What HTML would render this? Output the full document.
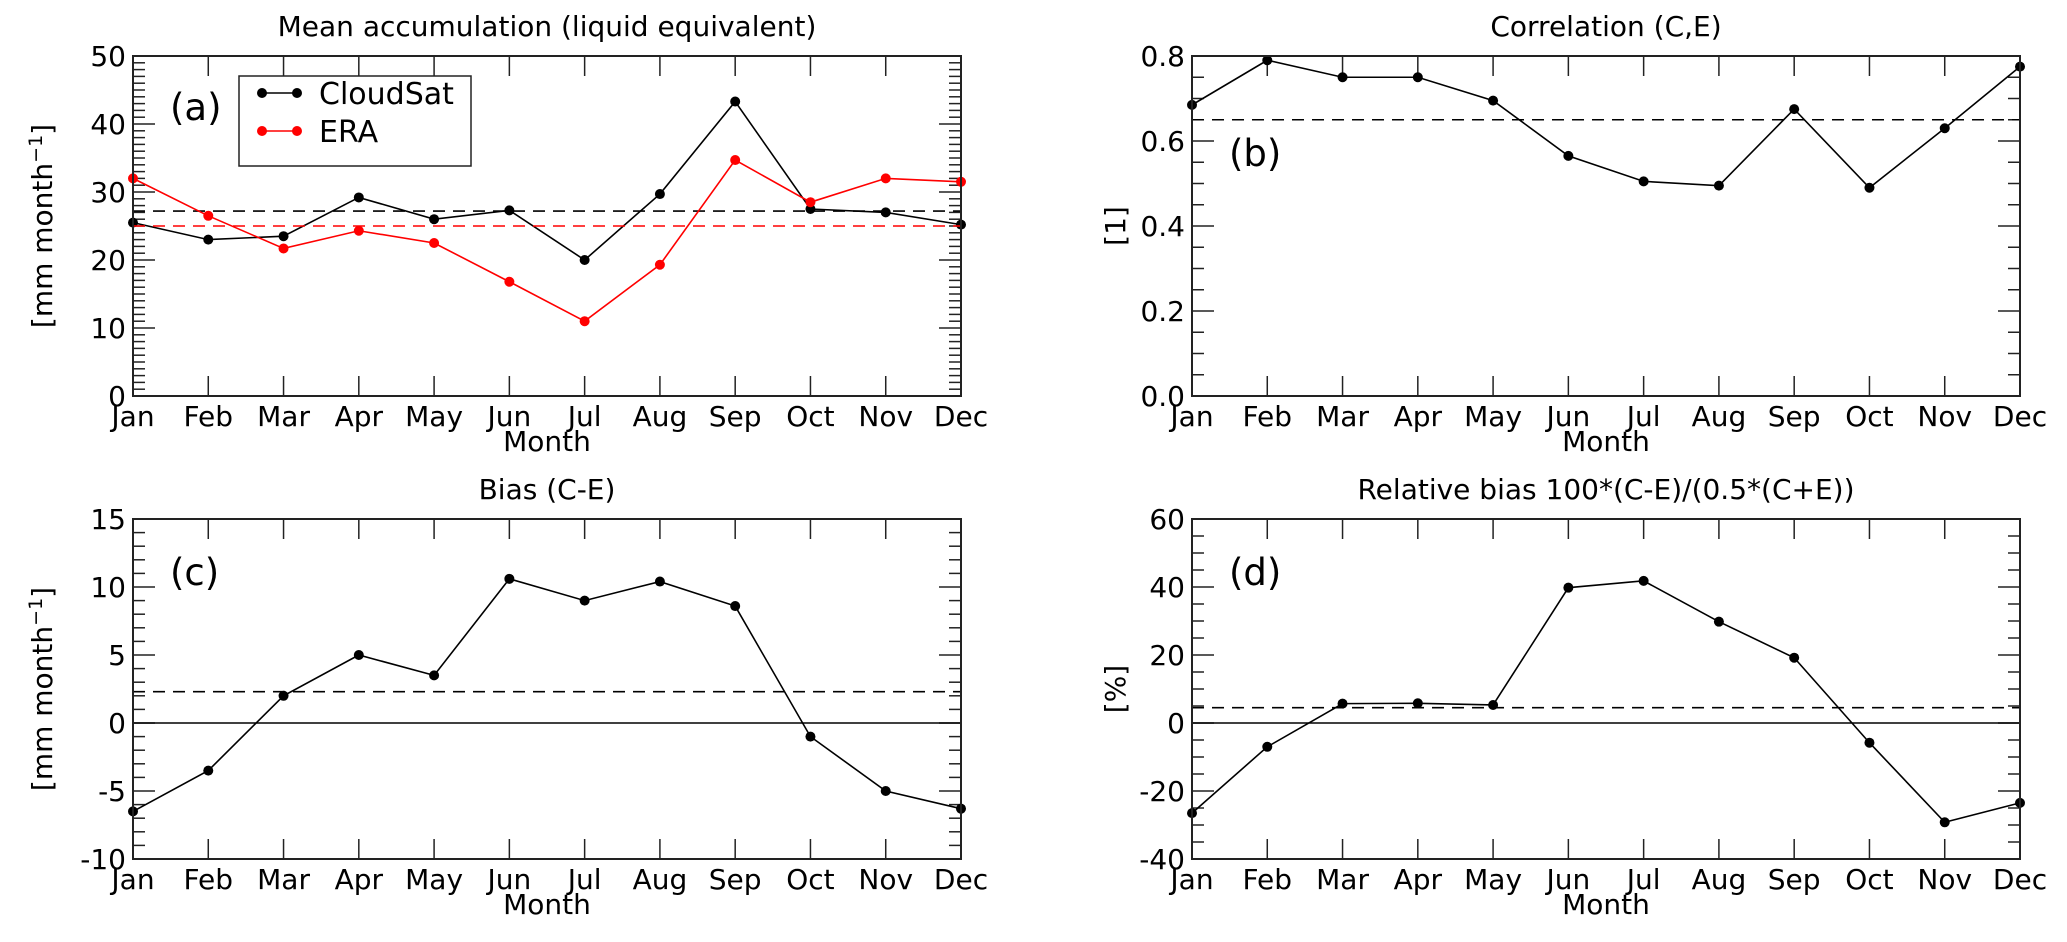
<!DOCTYPE html>
<html><head><meta charset="utf-8"><style>
body{margin:0;background:#fff}
svg{display:block;font-family:"DejaVu Sans","Liberation Sans",sans-serif}
</style></head><body>
<svg id="fig" width="2067" height="942" viewBox="0 0 2067 942" xmlns="http://www.w3.org/2000/svg"></svg>
<script>
const months = ["Jan","Feb","Mar","Apr","May","Jun","Jul","Aug","Sep","Oct","Nov","Dec"];
const cloudsat = [25.5,23,23.5,29.2,26,27.3,20,29.7,43.3,27.5,27,25.2];
const era = [32,26.5,21.7,24.3,22.5,16.8,11,19.3,34.7,28.5,32,31.5];
const meanCloudsat = 27.2;
const meanEra = 25;
const corr = [0.685,0.79,0.75,0.75,0.695,0.565,0.505,0.495,0.675,0.49,0.63,0.775];
const meanCorr = 0.65;
const bias = [-6.5,-3.5,2,5,3.5,10.6,9,10.4,8.6,-1,-5,-6.3];
const meanBias = 2.3;
const relBias = [-26.5,-7,5.7,5.8,5.3,39.8,41.8,29.8,19.2,-5.8,-29.2,-23.5];
const meanRelBias = 4.5;
const ticksA = ["0","10","20","30","40","50"];
const ticksB = ["0.0","0.2","0.4","0.6","0.8"];
const ticksC = ["-10","-5","0","5","10","15"];
const ticksD = ["-40","-20","0","20","40","60"];

const svg = document.getElementById('fig');
const NS = "http://www.w3.org/2000/svg";
function mk(tag, attrs, parent){
  const e = document.createElementNS(NS, tag);
  for (const k in attrs) e.setAttribute(k, attrs[k]);
  (parent||svg).appendChild(e);
  return e;
}
const FS = 28;

function panel(o){
  const g = mk('g', {});
  
  
  const L=o.x, T=o.y, W=828, H=340;
  const xs = i => L + i*W/11;
  const ys = v => T + H - (v - o.min)/(o.max - o.min)*H;
  for (let v=o.min; v<=o.max+1e-9; v+=o.minor){
    const isMaj = Math.abs(Math.round((v-o.min)/o.major)*o.major-(v-o.min))<1e-6;
    const len = isMaj?22:12;
    mk('line',{x1:L,x2:L+len,y1:ys(v),y2:ys(v),stroke:'#222','stroke-width':1.5},g);
    mk('line',{x1:L+W,x2:L+W-len,y1:ys(v),y2:ys(v),stroke:'#222','stroke-width':1.5},g);
  }
  o.ticks.forEach(t=>{
    const v=parseFloat(t);
    const tx = mk('text',{x:L-7,y:ys(v)+10,'text-anchor':'end','font-size':FS,fill:'#000'},g);
    tx.textContent=t;
    
    
  });
  months.forEach((m,i)=>{
    mk('line',{x1:xs(i),x2:xs(i),y1:T,y2:T+20,stroke:'#222','stroke-width':1.5},g);
    mk('line',{x1:xs(i),x2:xs(i),y1:T+H,y2:T+H-20,stroke:'#222','stroke-width':1.5},g);
    const tx = mk('text',{x:xs(i),y:T+H+30,'text-anchor':'middle','font-size':FS,fill:'#000'},g);
    tx.textContent=m;
    
    
  });
  const xt = mk('text',{x:L+W/2,y:T+H+55,'text-anchor':'middle','font-size':FS},g);
  xt.textContent='Month';
  
  
  const tt = mk('text',{x:L+W/2,y:T-20,'text-anchor':'middle','font-size':FS},g);
  tt.textContent=o.title;
  
  
  const yt = mk('text',{x:0,y:0,'text-anchor':'middle','font-size':FS,transform:`translate(${o.ylx},${T+H/2}) rotate(-90)`},g);
  yt.innerHTML=o.ylabel;
  
  
  const pl = mk('text',{x:L+37,y:T+o.ly,'font-size':37},g);
  pl.textContent=o.letter;
  
  
  if (o.zero){
    mk('line',{x1:L,x2:L+W,y1:ys(0),y2:ys(0),stroke:'#000','stroke-width':1.5},g);
  }
  o.series.forEach(s=>{
    const ml = mk('line',{x1:L,x2:L+W,y1:ys(s.mean),y2:ys(s.mean),stroke:s.color,'stroke-width':1.6,'stroke-dasharray':'12,8'},g);
    
    
    const pts = s.data.map((v,i)=>xs(i)+','+ys(v)).join(' ');
    const pln = mk('polyline',{points:pts,fill:'none',stroke:s.color,'stroke-width':1.6},g);
    
    
    s.data.forEach((v,i)=>{
      const c = mk('circle',{cx:xs(i),cy:ys(v),r:5,fill:s.color},g);
      
      
    });
  });
  const fr = mk('rect',{x:L,y:T,width:W,height:H,fill:'none',stroke:'#222','stroke-width':2},g);
  
  
  return g;
}

panel({name:'panel-a-mean-accumulation',x:133,y:56,min:0,max:50,major:10,minor:1,ticks:ticksA,ly:64,
  title:'Mean accumulation (liquid equivalent)',letter:'(a)',ylx:52,
  ylabel:'[mm month<tspan dy="-10" font-size="19">−1</tspan><tspan dy="10">]</tspan>',
  series:[{data:cloudsat,mean:meanCloudsat,color:'#000'},{data:era,mean:meanEra,color:'#ff0000'}]});
panel({name:'panel-b-correlation',x:1192,y:56,min:0,max:0.8,major:0.2,minor:0.05,ticks:ticksB,ly:110,
  title:'Correlation (C,E)',letter:'(b)',ylx:1125,ylabel:'[1]',
  series:[{data:corr,mean:meanCorr,color:'#000'}]});
panel({name:'panel-c-bias',x:133,y:519,min:-10,max:15,major:5,minor:1,ticks:ticksC,zero:true,ly:66,
  title:'Bias (C-E)',letter:'(c)',ylx:52,
  ylabel:'[mm month<tspan dy="-10" font-size="19">−1</tspan><tspan dy="10">]</tspan>',
  series:[{data:bias,mean:meanBias,color:'#000'}]});
panel({name:'panel-d-relative-bias',x:1192,y:519,min:-40,max:60,major:20,minor:5,ticks:ticksD,zero:true,ly:66,
  title:'Relative bias 100*(C-E)/(0.5*(C+E))',letter:'(d)',ylx:1125,ylabel:'[%]',
  series:[{data:relBias,mean:meanRelBias,color:'#000'}]});

const lg = mk('g',{});


mk('rect',{x:239,y:76,width:232,height:90,fill:'#fff',stroke:'#222','stroke-width':1.5},lg);
[['CloudSat','#000',105],['ERA','#ff0000',143]].forEach(([n,c,y])=>{
  const e = mk('g',{},lg);
  
  
  mk('line',{x1:262,x2:297,y1:y-12,y2:y-12,stroke:c,'stroke-width':1.6},e);
  mk('circle',{cx:262,cy:y-12,r:5,fill:c},e);
  mk('circle',{cx:297,cy:y-12,r:5,fill:c},e);
  const t = mk('text',{x:319,y:y-1,'font-size':30},e);
  t.textContent=n;
});
</script>
</body></html>
